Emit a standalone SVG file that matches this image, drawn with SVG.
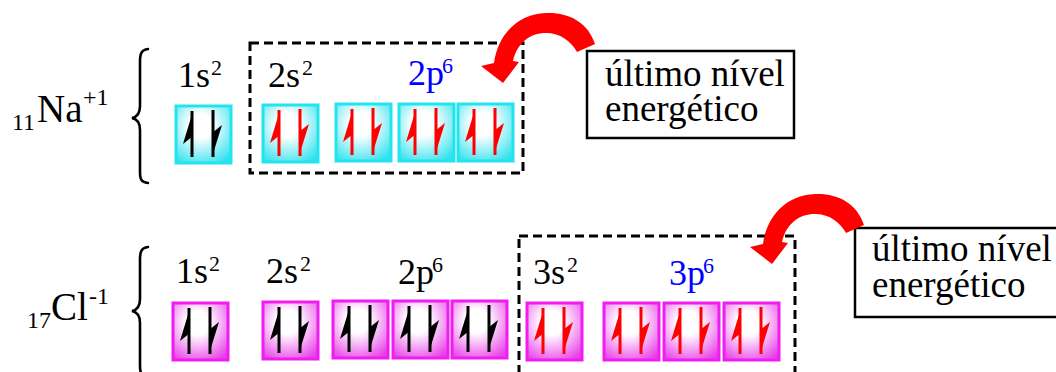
<svg xmlns="http://www.w3.org/2000/svg" xmlns:xlink="http://www.w3.org/1999/xlink" width="1056" height="372" viewBox="0 0 1056 372">
<style>
.t{font-family:Liberation Serif, serif;fill:#000}
.el{font-size:39px}
.idx{font-size:24px}
.orb{font-size:36px}
.sup{font-size:22px}
.blue{fill:#0000ff}
.note{font-size:37px}
.cy{fill:url(#gc);stroke:#22e4ee;stroke-width:3}
.mg{fill:url(#gm);stroke:#f01cf0;stroke-width:3}
.brace{fill:none;stroke:#000;stroke-width:2.6;stroke-linecap:round}
.dash{fill:none;stroke:#000;stroke-width:3;stroke-dasharray:9 5}
.tbox{fill:#fff;stroke:#000;stroke-width:2.5}
.curve{fill:#ff0000}
.stk{stroke-width:3}
</style>
<defs>
<radialGradient id="gc" cx="0.45" cy="0.35" r="0.75">
<stop offset="0" stop-color="#ffffff"/><stop offset="0.28" stop-color="#ffffff"/><stop offset="1" stop-color="#30e2ee"/>
</radialGradient>
<radialGradient id="gm" cx="0.45" cy="0.35" r="0.75">
<stop offset="0" stop-color="#ffffff"/><stop offset="0.28" stop-color="#ffffff"/><stop offset="1" stop-color="#e840e8"/>
</radialGradient>
<g id="pk">
<line x1="16" y1="5" x2="16" y2="51" stroke="#000" class="stk"/>
<polygon points="17,5 7,38 17,30" fill="#000"/>
<line x1="37" y1="4" x2="37" y2="51" stroke="#000" class="stk"/>
<polygon points="36,51 46,19 36,27" fill="#000"/>
</g>
<g id="pr">
<line x1="16" y1="5" x2="16" y2="51" stroke="#ff0000" class="stk"/>
<polygon points="17,5 7,38 17,30" fill="#ff0000"/>
<line x1="37" y1="4" x2="37" y2="51" stroke="#ff0000" class="stk"/>
<polygon points="36,51 46,19 36,27" fill="#ff0000"/>
</g>
<path id="carrow" d="M595,44 C588,22 568,12 546,13 C518,14 498,34 494,63 L481,66 L503,83 L519,62 L513,61 C517,43 530,33 546,33 C560,33 571,41 577,52 Z"/>
</defs>
<!-- Na+ row -->
<g id="na-label">
<text font-family="Liberation Serif" x="12" y="130" class="t idx">11</text>
<text font-family="Liberation Serif" x="37" y="122" class="t el">Na</text>
<text font-family="Liberation Serif" x="83" y="105" class="t idx">+1</text>
</g>
<g id="na-brace"><path class="brace" d="M148,49 C141,50 140,54 140,62 L140,106 C140,114 137,117 132,118 C137,119 140,122 140,130 L140,172 C140,179 141,182 148,183"/></g>
<g id="na-frame"><rect class="dash" x="250" y="43" width="273" height="130"/></g>
<g id="na-1s">
<text font-family="Liberation Serif" x="178" y="87" class="t orb">1s</text><text font-family="Liberation Serif" x="211" y="75" class="t sup">2</text>
<rect class="cy" x="176" y="106" width="55" height="57"/><use xlink:href="#pk" x="176" y="106"/>
</g>
<g id="na-2s">
<text font-family="Liberation Serif" x="268" y="87" class="t orb">2s</text><text font-family="Liberation Serif" x="302" y="75" class="t sup">2</text>
<rect class="cy" x="263" y="105" width="55" height="57"/><use xlink:href="#pr" x="263" y="105"/>
</g>
<g id="na-2p">
<text font-family="Liberation Serif" x="408" y="85" class="t orb blue">2p</text><text font-family="Liberation Serif" x="442" y="73" class="t sup blue">6</text>
<rect class="cy" x="336" y="104" width="55" height="57"/><use xlink:href="#pr" x="336" y="104"/>
<rect class="cy" x="399" y="104" width="55" height="57"/><use xlink:href="#pr" x="399" y="104"/>
<rect class="cy" x="458" y="104" width="55" height="57"/><use xlink:href="#pr" x="458" y="104"/>
</g>
<g id="na-note">
<rect class="tbox" x="587" y="51" width="207" height="87"/>
<text font-family="Liberation Serif" x="605" y="86" class="t note">último nível</text>
<text font-family="Liberation Serif" x="605" y="121" class="t note">energético</text>
</g>

<!-- Cl- row -->
<g id="cl-label">
<text font-family="Liberation Serif" x="27" y="328" class="t idx">17</text>
<text font-family="Liberation Serif" x="51" y="320" class="t el">Cl</text>
<text font-family="Liberation Serif" x="89" y="304" class="t idx">-1</text>
</g>
<g id="cl-brace"><path class="brace" d="M148,247 C141,248 140,252 140,260 L140,299 C140,307 137,310 132,311 C137,312 140,315 140,323 L140,366 C140,373 141,376 148,377"/></g>
<g id="cl-frame"><rect class="dash" x="519" y="236" width="276" height="150"/></g>
<g id="cl-1s">
<text font-family="Liberation Serif" x="176" y="283" class="t orb">1s</text><text font-family="Liberation Serif" x="209" y="271" class="t sup">2</text>
<rect class="mg" x="173" y="303" width="55" height="57"/><use xlink:href="#pk" x="173" y="303"/>
</g>
<g id="cl-2s">
<text font-family="Liberation Serif" x="266" y="283" class="t orb">2s</text><text font-family="Liberation Serif" x="300" y="271" class="t sup">2</text>
<rect class="mg" x="263" y="302" width="55" height="57"/><use xlink:href="#pk" x="263" y="302"/>
</g>
<g id="cl-2p">
<text font-family="Liberation Serif" x="398" y="284" class="t orb">2p</text><text font-family="Liberation Serif" x="432" y="272" class="t sup">6</text>
<rect class="mg" x="333" y="301" width="55" height="57"/><use xlink:href="#pk" x="333" y="301"/>
<rect class="mg" x="393" y="301" width="55" height="57"/><use xlink:href="#pk" x="393" y="301"/>
<rect class="mg" x="452" y="301" width="55" height="57"/><use xlink:href="#pk" x="452" y="301"/>
</g>
<g id="cl-3s">
<text font-family="Liberation Serif" x="533" y="284" class="t orb">3s</text><text font-family="Liberation Serif" x="567" y="272" class="t sup">2</text>
<rect class="mg" x="527" y="303" width="55" height="57"/><use xlink:href="#pr" x="527" y="303"/>
</g>
<g id="cl-3p">
<text font-family="Liberation Serif" x="669" y="285" class="t orb blue">3p</text><text font-family="Liberation Serif" x="703" y="273" class="t sup blue">6</text>
<rect class="mg" x="604" y="303" width="55" height="57"/><use xlink:href="#pr" x="604" y="303"/>
<rect class="mg" x="664" y="303" width="55" height="57"/><use xlink:href="#pr" x="664" y="303"/>
<rect class="mg" x="724" y="303" width="55" height="57"/><use xlink:href="#pr" x="724" y="303"/>
</g>
<g id="cl-note">
<rect class="tbox" x="855" y="228" width="210" height="89"/>
<text font-family="Liberation Serif" x="872" y="261" class="t note">último nível</text>
<text font-family="Liberation Serif" x="872" y="297" class="t note">energético</text>
</g>
<g id="connectors">
<use xlink:href="#carrow" class="curve"/>
<use xlink:href="#carrow" class="curve" transform="translate(269,181)"/>
</g>
</svg>
